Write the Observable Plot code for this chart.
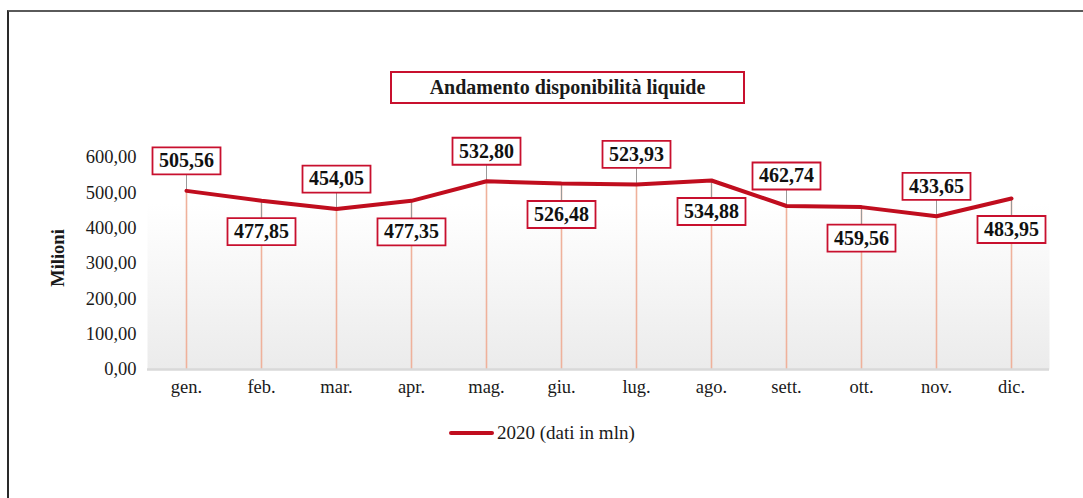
<!DOCTYPE html>
<html>
<head>
<meta charset="utf-8">
<script src="https://cdn.jsdelivr.net/npm/d3@7"></script>
<script src="https://cdn.jsdelivr.net/npm/@observablehq/plot@0.6"></script>
<style>
  html, body { margin: 0; padding: 0; background: #fff; width: 1083px; height: 498px; overflow: hidden; }
  #wrap { position: relative; width: 1083px; height: 498px; font-family: "Liberation Serif", serif; color: #1a1a1a; }
  #frame { position: absolute; left: 7px; top: 10px; width: 1200px; height: 600px;
           border-top: 2px solid #5a5a5a; border-left: 2px solid #2a2a2a; }
  #title { position: absolute; left: 390px; top: 71px; width: 351px; height: 29px;
           border: 2px solid #c8102e; background: #fff; text-align: center;
           font-weight: bold; font-size: 20px; line-height: 29px; }
  #ylabel { position: absolute; left: 58px; top: 258px; transform: translate(-50%, -50%) rotate(-90deg);
            font-weight: bold; font-size: 18.5px; white-space: nowrap; }
  #legend { position: absolute; left: 449px; top: 422px; display: flex; align-items: center; font-size: 19px; }
  #legend .sw { width: 45px; height: 4px; background: #c00d1e; margin-right: 3px; border-radius: 2px; }
  #chart { position: absolute; left: 0; top: 0; }
</style>
</head>
<body>
<div id="wrap">
  <div id="frame"></div>
  <div id="chart"></div>
  <div id="title">Andamento disponibilità liquide</div>
  <div id="ylabel">Milioni</div>
  <div id="legend"><span class="sw"></span><span id="legtext"></span></div>
</div>
<script>
const months = ["gen.", "feb.", "mar.", "apr.", "mag.", "giu.", "lug.", "ago.", "sett.", "ott.", "nov.", "dic."];
const values = [505.56, 477.85, 454.05, 477.35, 532.80, 526.48, 523.93, 534.88, 462.74, 459.56, 433.65, 483.95];
const yTicks = [0, 100, 200, 300, 400, 500, 600];
const seriesName = "2020 (dati in mln)";

const it = d3.formatLocale({decimal: ",", thousands: ".", grouping: [3], currency: ["€", ""]});
const fmt = it.format(".2f");

const data = months.map((m, i) => ({month: m, value: values[i], idx: i}));
const above = data.filter(d => d.idx % 2 === 0);
const below = data.filter(d => d.idx % 2 === 1);

const RED = "#c00d1e";
const BOX = "#c8102e";
const boxSymbol = {draw(ctx) { ctx.rect(-34, -13.5, 68, 27); }};
const leader = {draw(ctx, l) { ctx.moveTo(0, 0); ctx.lineTo(0, -l); }};

const upDy = -30, downDy = 31;

const labelMarks = (arr, dy) => [
  Plot.vector(arr, {x: "month", y: "value", length: Math.abs(dy) - 13, rotate: dy < 0 ? 0 : 180,
    anchor: "start", shape: leader, stroke: "#9a9a9a", strokeWidth: 1}),
];
const boxMarks = (arr, dy) => [
  Plot.dot(arr, {x: "month", y: "value", dy, r: 5, symbol: boxSymbol, fill: "#fff", stroke: BOX, strokeWidth: 1.8}),
  Plot.text(arr, {x: "month", y: "value", dy, text: d => fmt(d.value), fontWeight: "bold", fontSize: 20,
    fontFamily: "Liberation Serif", fill: "#111"})
];

const chart = Plot.plot({
  width: 1083,
  height: 400,
  marginTop: 157,
  marginBottom: 31,
  marginLeft: 147,
  marginRight: 34,
  style: {fontFamily: "Liberation Serif", fontSize: "18.5px", color: "#1a1a1a", background: "transparent", overflow: "visible"},
  x: {type: "point", domain: months, padding: 0.5, label: null, tickSize: 0, tickPadding: 10},
  y: {domain: [0, 600], ticks: yTicks, tickFormat: fmt, label: null, tickSize: 0, tickPadding: 11},
  marks: [
    Plot.frame({fill: "url(#bggrad)", stroke: "none"}),
    Plot.ruleX(data, {x: "month", y1: 0, y2: "value", stroke: "#efb19b", strokeWidth: 1.6}),
    ...labelMarks(above, upDy),
    ...labelMarks(below, downDy),
    Plot.ruleY([0], {stroke: "#d9d9d9", strokeWidth: 2.5}),
    Plot.line(data, {x: "month", y: "value", stroke: RED, strokeWidth: 4, strokeLinejoin: "miter"}),
    ...boxMarks(above, upDy),
    ...boxMarks(below, downDy)
  ]
});

const svg = d3.select(chart);
const defs = svg.insert("defs", ":first-child");
const grad = defs.append("linearGradient").attr("id", "bggrad").attr("x1", 0).attr("y1", 0).attr("x2", 0).attr("y2", 1);
grad.append("stop").attr("offset", "0%").attr("stop-color", "#ffffff");
grad.append("stop").attr("offset", "22%").attr("stop-color", "#ffffff");
grad.append("stop").attr("offset", "100%").attr("stop-color", "#ebebeb");

document.getElementById("chart").appendChild(chart);
document.getElementById("legtext").textContent = seriesName;
</script>
</body>
</html>
